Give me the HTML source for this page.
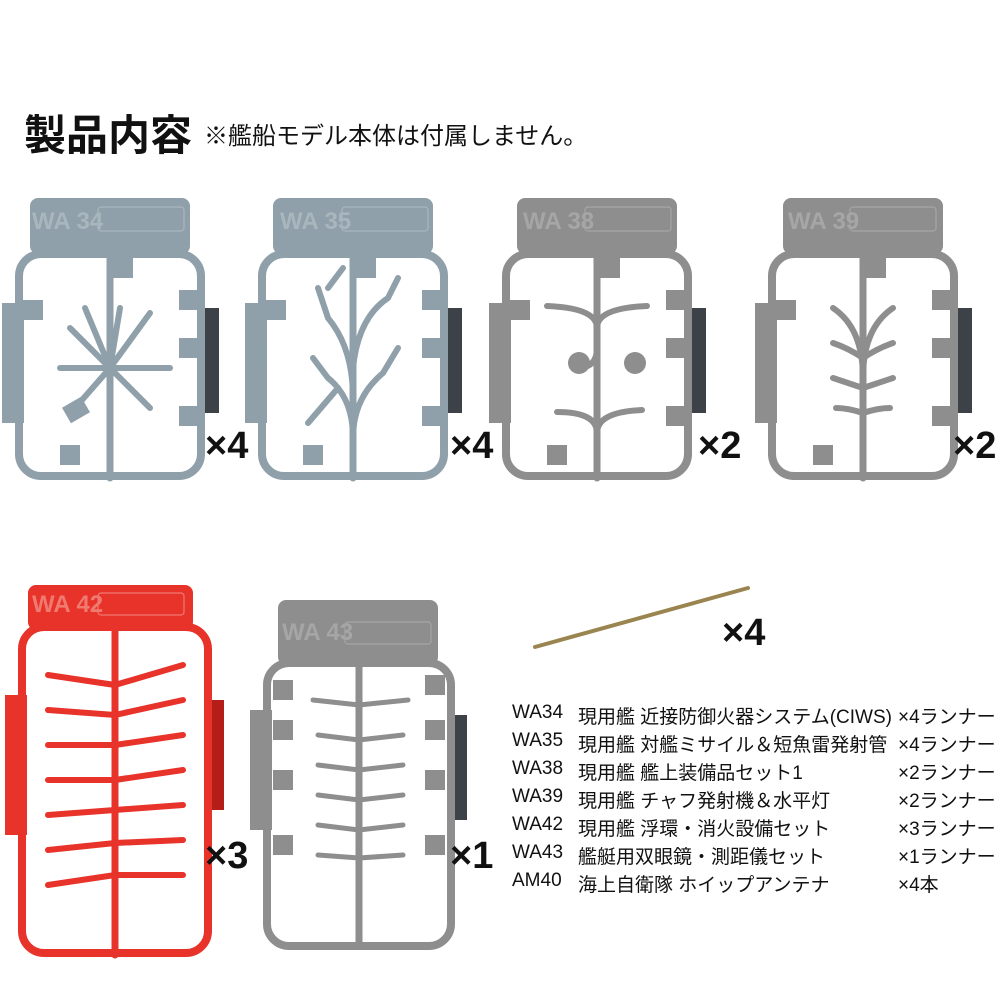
<!DOCTYPE html>
<html><head><meta charset="utf-8"><style>
body{margin:0;background:#fff;width:1000px;height:1000px;overflow:hidden;position:relative;font-family:"Liberation Sans","Noto Sans CJK JP",sans-serif}
.t{position:absolute;white-space:nowrap}
.x{position:absolute;font-weight:bold;font-size:38px;color:#111}
.r{position:absolute;font-size:19px;color:#111;white-space:nowrap}
</style></head><body>
<div class="t" style="left:24px;top:102px;font-size:42px;font-weight:bold;color:#111">製品内容</div>
<div class="t" style="left:204px;top:116px;font-size:24px;color:#111">※艦船モデル本体は付属しません。</div>
<svg width="1000" height="1000" style="position:absolute;left:0;top:0">
<defs>
<g id="fr">
 <rect x="-13" y="105" width="22" height="120" fill="currentColor"/>
 <rect x="186" y="110" width="18" height="105" fill="#3c4248"/>
 <rect x="15" y="0" width="160" height="56" rx="8" fill="currentColor"/>
 <rect x="4" y="56" width="182" height="222" rx="22" fill="none" stroke="currentColor" stroke-width="8"/>
 <line x1="95" y1="56" x2="95" y2="280" stroke="currentColor" stroke-width="7"/>
 <rect x="98" y="60" width="20" height="20" fill="currentColor"/>
 <rect x="8" y="102" width="20" height="20" fill="currentColor"/>
 <rect x="164" y="92" width="20" height="20" fill="currentColor"/>
 <rect x="164" y="140" width="20" height="20" fill="currentColor"/>
 <rect x="164" y="208" width="20" height="20" fill="currentColor"/>
 <rect x="45" y="247" width="20" height="20" fill="currentColor"/>
</g>
</defs>
<g fill="none" stroke-linecap="round">
<g transform="translate(15,198)" style="color:#8fa0aa">
 <use href="#fr"/>
 <g stroke="#8fa0aa" stroke-width="6"><line x1="95" y1="170" x2="70" y2="110"/><line x1="95" y1="170" x2="105" y2="110"/><line x1="95" y1="170" x2="135" y2="115"/><line x1="95" y1="170" x2="55" y2="130"/><line x1="95" y1="170" x2="45" y2="170"/><line x1="95" y1="170" x2="155" y2="170"/><line x1="95" y1="170" x2="60" y2="210"/><line x1="95" y1="170" x2="135" y2="210"/></g>
 <rect x="50" y="203" width="22" height="18" fill="#8fa0aa" transform="rotate(-30 61 212)"/>
</g>
<g transform="translate(258,198)" style="color:#8fa0aa">
 <use href="#fr"/>
 <g stroke="#8fa0aa" stroke-width="6"><path d="M95 240 Q95 200 70 180 L55 160"/><path d="M95 240 Q95 200 125 175 L140 150"/><path d="M95 200 Q95 150 70 120 L60 90"/><path d="M95 170 Q100 120 130 100 L140 80"/><line x1="50" y1="225" x2="80" y2="190"/><line x1="70" y1="90" x2="85" y2="70"/></g>
</g>
<g transform="translate(502,198)" style="color:#8e8e8e">
 <use href="#fr"/>
 <g stroke="#8e8e8e" stroke-width="6"><path d="M45 108 Q95 110 95 130 Q95 110 145 108"/><path d="M55 214 Q95 214 95 235 Q95 214 140 212"/><path d="M75 170 Q95 170 95 150"/></g>
 <circle cx="77" cy="165" r="11" fill="#8e8e8e"/><circle cx="133" cy="165" r="11" fill="#8e8e8e"/>
</g>
<g transform="translate(768,198)" style="color:#8e8e8e">
 <use href="#fr"/>
 <g stroke="#8e8e8e" stroke-width="6"><path d="M95 240 L95 180 Q95 130 65 110"/><path d="M95 180 Q95 130 125 110"/><path d="M95 160 Q80 150 65 145"/><path d="M95 160 Q110 150 125 145"/><path d="M95 190 Q80 185 65 180"/><path d="M95 190 Q110 185 125 180"/><path d="M95 215 Q80 210 68 210"/><path d="M95 215 Q110 210 122 210"/></g>
</g>
<g transform="translate(18,585)">
 <rect x="-13" y="110" width="22" height="140" fill="#e8332b"/>
 <rect x="188" y="115" width="18" height="110" fill="#b51d18"/>
 <rect x="10" y="0" width="165" height="45" rx="8" fill="#e8332b"/>
 <rect x="4" y="42" width="186" height="326" rx="22" fill="none" stroke="#e8332b" stroke-width="8"/>
 <line x1="97" y1="45" x2="97" y2="370" stroke="#e8332b" stroke-width="7"/>
 <g stroke="#e8332b" stroke-width="6">
  <path d="M30 90 L97 100 L165 80"/><path d="M30 125 L97 130 L165 115"/><path d="M30 160 L97 160 L165 150"/><path d="M30 195 L97 195 L165 185"/><path d="M30 230 L97 225 L165 220"/><path d="M30 265 L97 258 L165 255"/><path d="M30 300 L97 290 L165 290"/>
 </g>
</g>
<g transform="translate(263,600)">
 <rect x="-13" y="110" width="22" height="120" fill="#8e8e8e"/>
 <rect x="188" y="115" width="16" height="105" fill="#3c4248"/>
 <rect x="15" y="0" width="160" height="65" rx="8" fill="#8e8e8e"/>
 <rect x="4" y="63" width="184" height="283" rx="22" fill="none" stroke="#8e8e8e" stroke-width="8"/>
 <line x1="96" y1="63" x2="96" y2="346" stroke="#8e8e8e" stroke-width="7"/>
 <g stroke="#8e8e8e" stroke-width="5">
  <path d="M50 100 L96 105 L145 100"/><path d="M55 135 L96 140 L140 135"/><path d="M55 165 L96 170 L140 165"/><path d="M55 195 L96 200 L140 195"/><path d="M55 225 L96 230 L140 225"/><path d="M55 255 L96 258 L140 255"/>
 </g>
 <g fill="#8e8e8e"><rect x="10" y="80" width="20" height="20"/><rect x="162" y="75" width="20" height="20"/><rect x="10" y="120" width="20" height="20"/><rect x="162" y="120" width="20" height="20"/><rect x="10" y="170" width="20" height="20"/><rect x="162" y="170" width="20" height="20"/><rect x="10" y="235" width="20" height="20"/><rect x="162" y="235" width="20" height="20"/></g>
</g>
<line x1="535" y1="647" x2="748" y2="588" stroke="#9a8550" stroke-width="4"/>
</g>
<g font-family="Liberation Sans,sans-serif" font-weight="bold" font-size="24">
<text x="32" y="229" fill="#a9b6bd">WA 34</text><text x="280" y="229" fill="#a9b6bd">WA 35</text><text x="523" y="229" fill="#a6a6a6">WA 38</text><text x="788" y="229" fill="#a6a6a6">WA 39</text><text x="32" y="612" fill="#f07a70">WA 42</text><text x="282" y="640" fill="#a6a6a6">WA 43</text>
</g>
<g fill="none" stroke-width="1.2">
<rect x="98" y="207" width="86" height="24" rx="3" stroke="#a9b6bd"/><rect x="342" y="207" width="86" height="24" rx="3" stroke="#a9b6bd"/><rect x="585" y="207" width="86" height="24" rx="3" stroke="#a6a6a6"/><rect x="850" y="207" width="86" height="24" rx="3" stroke="#a6a6a6"/><rect x="98" y="593" width="86" height="22" rx="3" stroke="#f07a70"/><rect x="345" y="622" width="86" height="22" rx="3" stroke="#a6a6a6"/>
</g>
</svg>
<div class="x" style="left:205px;top:425px">×4</div>
<div class="x" style="left:450px;top:425px">×4</div>
<div class="x" style="left:698px;top:425px">×2</div>
<div class="x" style="left:953px;top:425px">×2</div>
<div class="x" style="left:205px;top:835px">×3</div>
<div class="x" style="left:450px;top:835px">×1</div>
<div class="x" style="left:722px;top:612px">×4</div>
<div class="r" style="left:512px;top:702px">WA34</div><div class="r" style="left:578px;top:702px">現用艦 近接防御火器システム(CIWS)</div><div class="r" style="left:898px;top:702px">×4ランナー</div>
<div class="r" style="left:512px;top:730px">WA35</div><div class="r" style="left:578px;top:730px">現用艦 対艦ミサイル＆短魚雷発射管</div><div class="r" style="left:898px;top:730px">×4ランナー</div>
<div class="r" style="left:512px;top:758px">WA38</div><div class="r" style="left:578px;top:758px">現用艦 艦上装備品セット1</div><div class="r" style="left:898px;top:758px">×2ランナー</div>
<div class="r" style="left:512px;top:786px">WA39</div><div class="r" style="left:578px;top:786px">現用艦 チャフ発射機＆水平灯</div><div class="r" style="left:898px;top:786px">×2ランナー</div>
<div class="r" style="left:512px;top:814px">WA42</div><div class="r" style="left:578px;top:814px">現用艦 浮環・消火設備セット</div><div class="r" style="left:898px;top:814px">×3ランナー</div>
<div class="r" style="left:512px;top:842px">WA43</div><div class="r" style="left:578px;top:842px">艦艇用双眼鏡・測距儀セット</div><div class="r" style="left:898px;top:842px">×1ランナー</div>
<div class="r" style="left:512px;top:870px">AM40</div><div class="r" style="left:578px;top:870px">海上自衛隊 ホイップアンテナ</div><div class="r" style="left:898px;top:870px">×4本</div>
</body></html>
